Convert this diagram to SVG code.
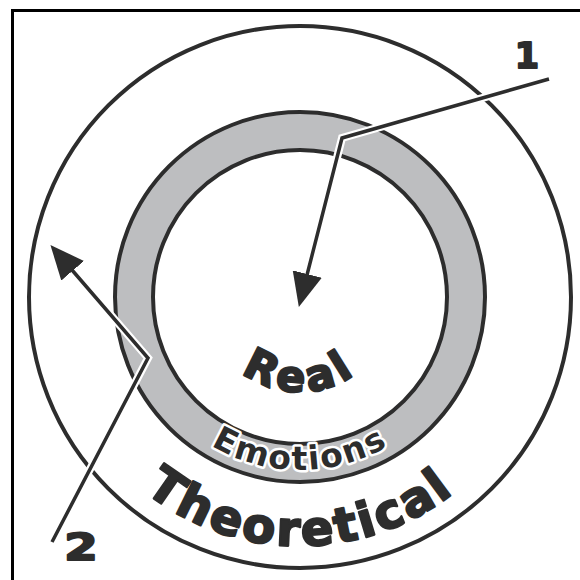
<svg xmlns="http://www.w3.org/2000/svg" width="580" height="580" viewBox="0 0 580 580">
  <defs>
    <style>
      .ring{fill:none;stroke:#2d2d2d;stroke-width:4}
      .halo{fill:none;stroke:#ffffff;stroke-width:8;stroke-linejoin:miter}
      .line{fill:none;stroke:#2d2d2d;stroke-width:3.5;stroke-linejoin:miter}
      .lbl{font-family:"DejaVu Sans","Liberation Sans",sans-serif;font-weight:bold;fill:#2d2d2d;stroke:#2d2d2d;stroke-width:2;stroke-linejoin:round}
      .curve{font-family:"DejaVu Sans","Liberation Sans",sans-serif;font-weight:bold;fill:#2d2d2d;stroke:#2d2d2d;stroke-width:2.2;stroke-linejoin:round}
      .emo{font-family:"DejaVu Sans","Liberation Sans",sans-serif;font-weight:bold;fill:#2d2d2d;stroke:#ffffff;stroke-width:5;paint-order:stroke;stroke-linejoin:round}
    </style>
    <marker id="head" viewBox="0 0 34 30" refX="1" refY="15" markerWidth="34" markerHeight="30" markerUnits="userSpaceOnUse" orient="auto">
      <path d="M0,0 L34,15 L0,30 Z" fill="#2d2d2d"/>
    </marker>
    <path id="pReal" d="M205,297 A95,95 0 0 0 395,297"/>
    <path id="pEmo" d="M127,297 A173,173 0 0 0 473,297"/>
    <path id="pTheo" d="M51,297 A249,249 0 0 0 549,297"/>
  </defs>
  <rect x="0" y="0" width="580" height="580" fill="#ffffff"/>
  <rect x="12.5" y="10.5" width="620" height="620" fill="none" stroke="#000000" stroke-width="3"/>

  <g id="theoretical">
    <circle class="ring" cx="300" cy="297" r="271"/>
    <text class="curve" font-size="48" letter-spacing="2.8"><textPath href="#pTheo" startOffset="50%" text-anchor="middle">Theoretical</textPath></text>
  </g>
  <g id="emotions">
    <circle cx="300" cy="297" r="185" fill="#bdbec0" stroke="#2d2d2d" stroke-width="4"/>
    <circle cx="300" cy="297" r="147" fill="#ffffff" stroke="#2d2d2d" stroke-width="4"/>
    <text class="emo" font-size="33" letter-spacing="1.8"><textPath href="#pEmo" startOffset="50%" text-anchor="middle">Emotions</textPath></text>
  </g>
  <g id="real">
    <text class="curve" font-size="43" letter-spacing="5"><textPath href="#pReal" startOffset="50%" text-anchor="middle">Real</textPath></text>
  </g>

  <g id="connectors">
    <polyline class="halo" points="549,79 342,138 307,275"/>
    <polyline class="line" points="549,79 342,138 307,275" marker-end="url(#head)"/>
    <polyline class="halo" points="52,542 148,358 72,270"/>
    <polyline class="line" points="52,542 148,358 72,270" marker-end="url(#head)"/>
  </g>
  <g id="label1">
    <text class="lbl" x="527" y="68" font-size="35" text-anchor="middle">1</text>
  </g>
  <g id="label2">
    <text class="lbl" x="0" y="0" font-size="37" text-anchor="middle" transform="translate(81,560) scale(1.3,1)">2</text>
  </g>
</svg>
